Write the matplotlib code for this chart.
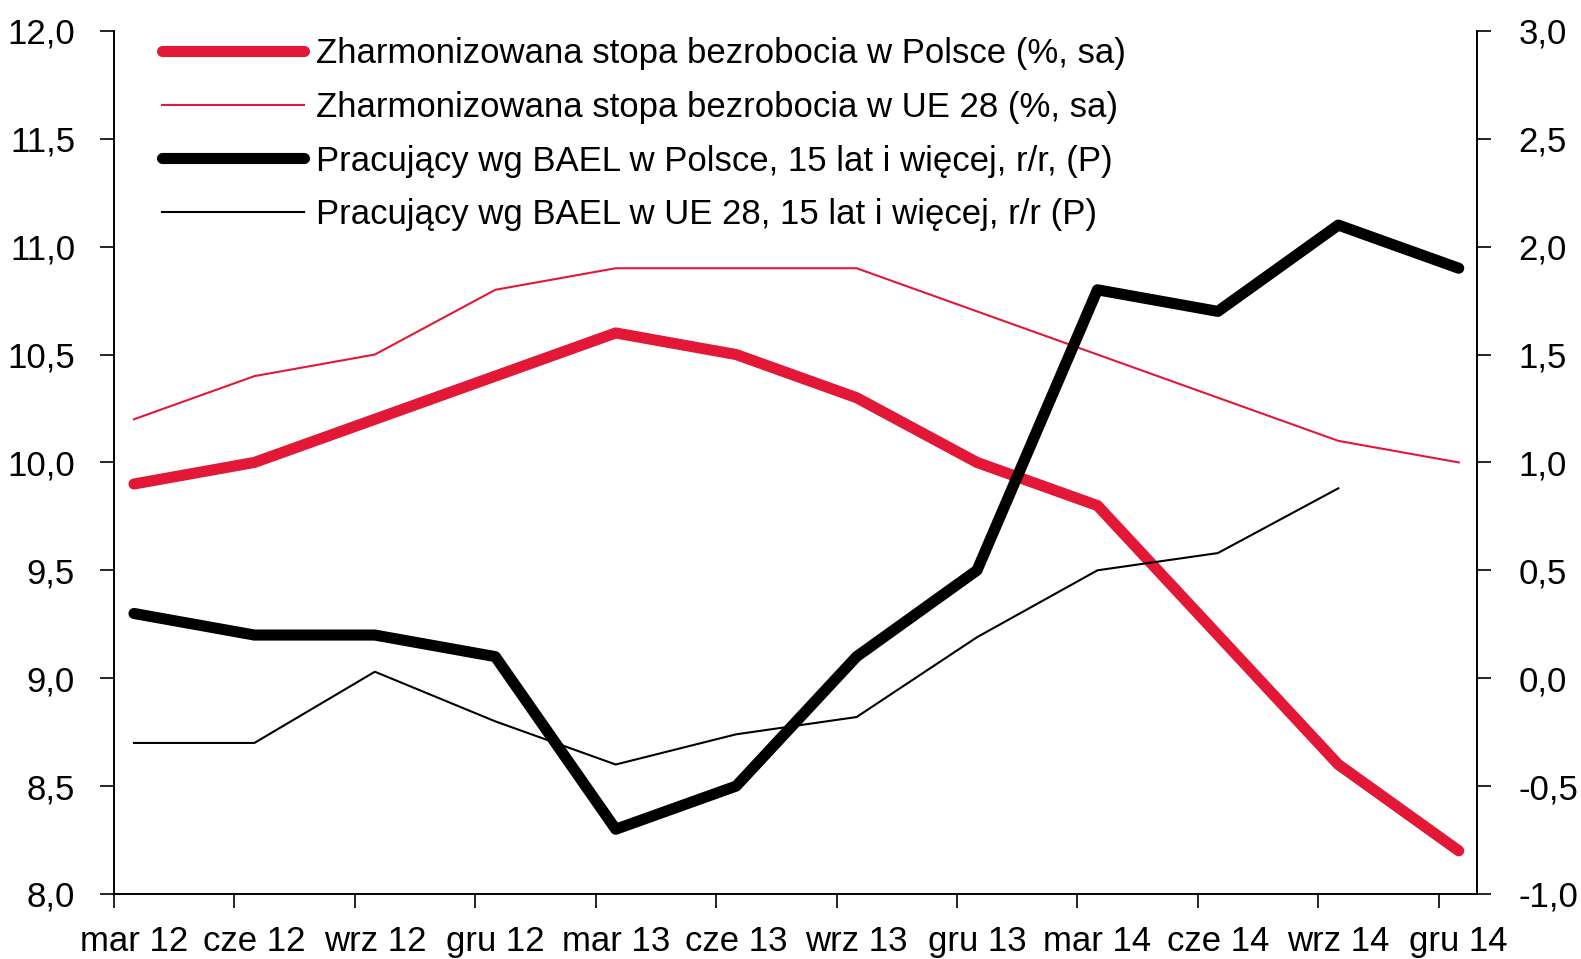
import numpy as np
import matplotlib.pyplot as plt

plt.rcParams['font.family'] = ['Liberation Sans', 'DejaVu Sans']

# Kwartały
labels = ['mar 12', 'cze 12', 'wrz 12', 'gru 12', 'mar 13', 'cze 13',
          'wrz 13', 'gru 13', 'mar 14', 'cze 14', 'wrz 14', 'gru 14']

# Stopa bezrobocia (lewa oś)
bezrob_pl = [9.9, 10.0, 10.2, 10.4, 10.6, 10.5, 10.3, 10.0, 9.8, 9.2, 8.6, 8.2]
bezrob_ue = [10.2, 10.4, 10.5, 10.8, 10.9, 10.9, 10.9, 10.7, 10.5, 10.3, 10.1, 10.0]

# Pracujący r/r (prawa oś)
prac_pl = [0.3, 0.2, 0.2, 0.1, -0.7, -0.5, 0.1, 0.5, 1.8, 1.7, 2.1, 1.9]
prac_ue = [-0.3, -0.3, 0.03, -0.2, -0.4, -0.26, -0.18, 0.19, 0.5, 0.58, 0.88]

red = '#E31837'
x = np.arange(len(labels))

fig = plt.figure(figsize=(15.81, 9.59), dpi=100)
ax = fig.add_axes([0.0721, 0.0678, 0.862, 0.9])
ax2 = ax.twinx()

l1, = ax.plot(x, bezrob_pl, color=red, lw=8, solid_capstyle='round', solid_joinstyle='round',
              label='Zharmonizowana stopa bezrobocia w Polsce (%, sa)')
l2, = ax.plot(x, bezrob_ue, color=red, lw=1.5,
              label='Zharmonizowana stopa bezrobocia w UE 28 (%, sa)')
l3, = ax2.plot(x, prac_pl, color='black', lw=8, solid_capstyle='round', solid_joinstyle='round',
               label='Pracujący wg BAEL w Polsce, 15 lat i więcej, r/r, (P)')
l4, = ax2.plot(x[:len(prac_ue)], prac_ue, color='black', lw=1.5,
               label='Pracujący wg BAEL w UE 28, 15 lat i więcej, r/r (P)')

ax.set_xlim(-0.166, 11.15)
ax.set_ylim(8, 12)
ax2.set_ylim(-1, 3)

ax.set_yticks(np.arange(8, 12.01, 0.5))
ax.set_yticklabels([f'{v:.1f}'.replace('.', ',') for v in np.arange(8, 12.01, 0.5)])
ax2.set_yticks(np.arange(-1, 3.01, 0.5))
ax2.set_yticklabels([f'{v:.1f}'.replace('.', ',') for v in np.arange(-1, 3.01, 0.5)])

# ticki między kategoriami, etykiety pod punktami
ax.set_xticks(x - 0.166)
ax.set_xticklabels([])
ax.set_xticks(x, minor=True)
ax.set_xticklabels(labels, minor=True)
ax.tick_params(axis='x', which='major', direction='out', length=10, width=1.2)
ax.tick_params(axis='x', which='minor', length=0, pad=22, labelsize=25)
ax.tick_params(axis='y', direction='out', length=10, width=1.2, pad=18, labelsize=25)
ax2.tick_params(axis='y', direction='out', length=10, width=1.2, pad=20, labelsize=25)

for a in (ax, ax2):
    a.spines['top'].set_visible(False)
    for s in ('left', 'right', 'bottom'):
        a.spines[s].set_linewidth(1.2)

ax.legend(handles=[l1, l2, l3, l4], loc='upper left', bbox_to_anchor=(0.035, 0.993),
          frameon=False, fontsize=25, handlelength=4.1, handletextpad=0.35,
          labelspacing=0.6, borderpad=0, borderaxespad=0)

plt.savefig('out.png', dpi=100)
